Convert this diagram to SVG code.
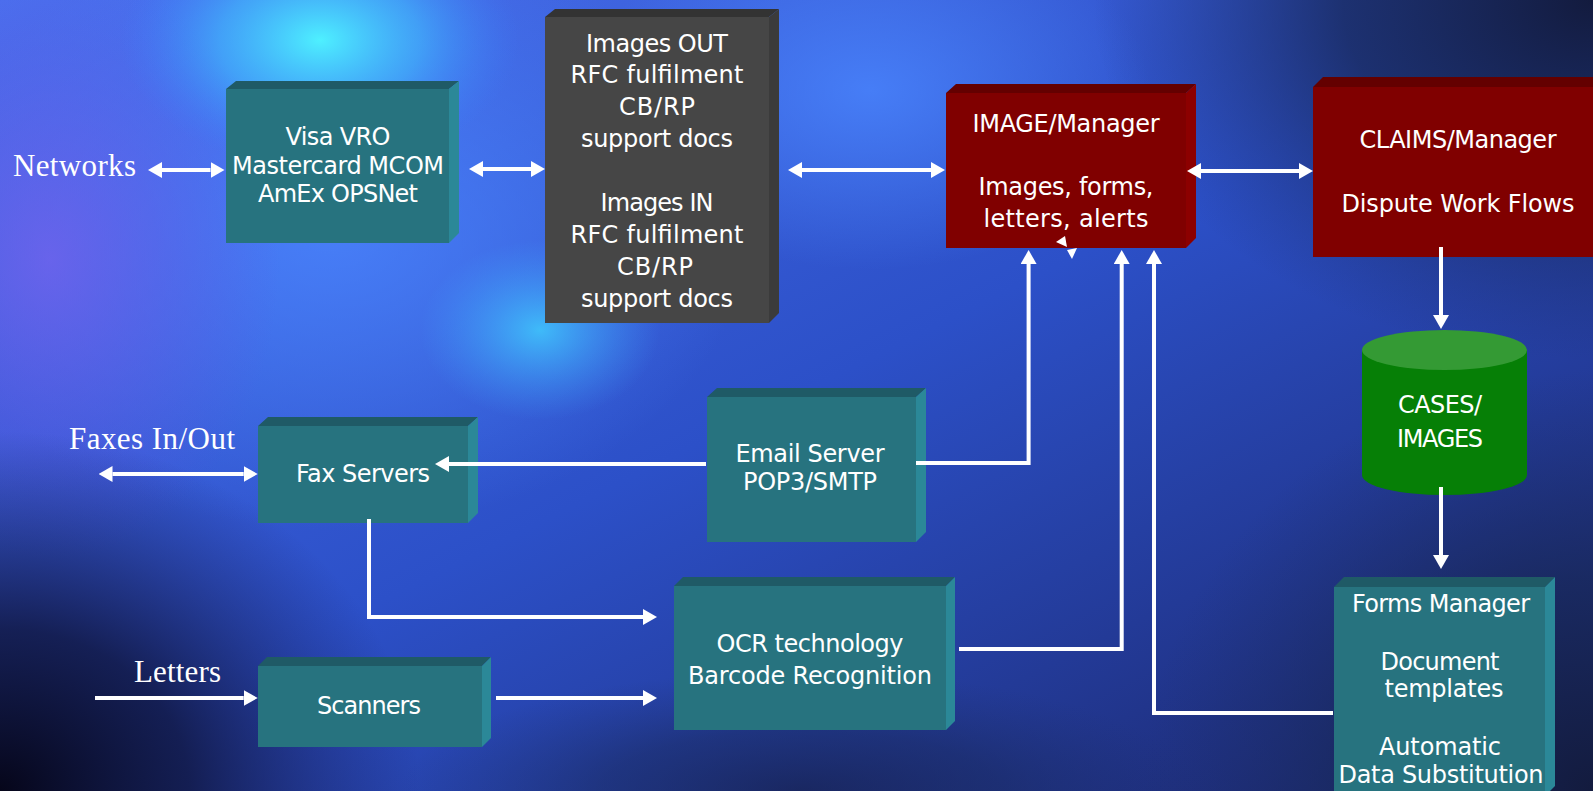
<svg xmlns="http://www.w3.org/2000/svg" width="1593" height="791" viewBox="0 0 1593 791">
<defs>
<style>
.t{font-family:"DejaVu Sans","Noto Sans",sans-serif;font-size:24px;fill:#fff;text-anchor:middle}
.s{font-family:"Liberation Serif","Times New Roman",serif;font-size:31px;fill:#fff}
.ln{fill:none;stroke:#fff;stroke-width:4}
.teal .f{fill:#27737f}.teal .tp{fill:#1f5a66}.teal .r{fill:#2b8898}
.grey .f{fill:#464646}.grey .tp{fill:#333}.grey .r{fill:#3b3b3b}
.red .f{fill:#800000}.red .tp{fill:#640000}.red .r{fill:#8c0000}
</style>
<marker id="ah" viewBox="0 0 14 16" markerWidth="14" markerHeight="16" refX="0" refY="8" orient="auto-start-reverse" markerUnits="userSpaceOnUse"><path d="M0,0 L14,8 L0,16 z" fill="#fff"/></marker>
<linearGradient id="bg0" x1="0" y1="0" x2="1" y2="1"><stop offset="0" stop-color="#4a70ee"/><stop offset="0.5" stop-color="#2c50c8"/><stop offset="1" stop-color="#1a2466"/></linearGradient>
<radialGradient id="cy1"><stop offset="0" stop-color="#4ef0ff"/><stop offset="0.5" stop-color="#40c0ff" stop-opacity="0.6"/><stop offset="1" stop-color="#3a80ff" stop-opacity="0"/></radialGradient>
<radialGradient id="pu"><stop offset="0" stop-color="#7460ec" stop-opacity="0.75"/><stop offset="1" stop-color="#6050e0" stop-opacity="0"/></radialGradient>
<radialGradient id="dk"><stop offset="0" stop-color="#06061a"/><stop offset="0.45" stop-color="#101640" stop-opacity="0.85"/><stop offset="1" stop-color="#1a2060" stop-opacity="0"/></radialGradient>
<radialGradient id="dk2"><stop offset="0" stop-color="#131b3e"/><stop offset="0.5" stop-color="#18285a" stop-opacity="0.8"/><stop offset="1" stop-color="#1e3070" stop-opacity="0"/></radialGradient>
<radialGradient id="lb"><stop offset="0" stop-color="#4a86ff" stop-opacity="0.8"/><stop offset="1" stop-color="#4a86ff" stop-opacity="0"/></radialGradient>
<radialGradient id="cy2"><stop offset="0" stop-color="#40d0ff" stop-opacity="0.8"/><stop offset="1" stop-color="#40a0ff" stop-opacity="0"/></radialGradient>
</defs>

<g id="background">
<rect width="1593" height="791" fill="url(#bg0)"/>
<ellipse cx="330" cy="230" rx="420" ry="300" fill="url(#lb)"/>
<ellipse cx="870" cy="90" rx="280" ry="180" fill="url(#lb)"/>
<ellipse cx="50" cy="260" rx="230" ry="300" fill="url(#pu)"/>
<ellipse cx="320" cy="40" rx="200" ry="130" fill="url(#cy1)"/>
<ellipse cx="540" cy="330" rx="120" ry="90" fill="url(#cy2)"/>
<ellipse cx="0" cy="791" rx="420" ry="360" fill="url(#dk)"/>
<ellipse cx="1593" cy="0" rx="500" ry="360" fill="url(#dk2)"/>
<ellipse cx="1593" cy="791" rx="450" ry="420" fill="url(#dk2)"/>
<ellipse cx="800" cy="791" rx="400" ry="120" fill="url(#dk2)" opacity="0.6"/>
</g>

<g id="labels">
<text class="s" x="13" y="176" textLength="123">Networks</text>
<text class="s" x="69" y="449" textLength="166">Faxes In/Out</text>
<text class="s" x="134" y="682" textLength="87">Letters</text>
</g>

<g id="visa" class="teal">
<polygon class="tp" points="226,89 236,81 459,81 449,89"/>
<polygon class="r" points="449,89 459,81 459,233 449,243"/>
<rect class="f" x="226" y="89" width="223" height="154"/>
<text class="t" x="338" y="145" textLength="105">Visa VRO</text>
<text class="t" x="338" y="174" textLength="212">Mastercard MCOM</text>
<text class="t" x="338" y="202" textLength="160">AmEx OPSNet</text>
</g>

<g id="images-io" class="grey">
<polygon class="tp" points="545,17 555,9 779,9 769,17"/>
<polygon class="r" points="769,17 779,9 779,313 769,323"/>
<rect class="f" x="545" y="17" width="224" height="306"/>
<text class="t" x="657" y="52" textLength="142">Images OUT</text>
<text class="t" x="657" y="83" textLength="173">RFC fulfilment</text>
<text class="t" x="657" y="115" textLength="76">CB/RP</text>
<text class="t" x="657" y="147" textLength="152">support docs</text>
<text class="t" x="657" y="211" textLength="113">Images IN</text>
<text class="t" x="657" y="243" textLength="173">RFC fulfilment</text>
<text class="t" x="655" y="275" textLength="76">CB/RP</text>
<text class="t" x="657" y="307" textLength="152">support docs</text>
</g>

<g id="image-manager" class="red">
<polygon class="tp" points="946,93 956,84 1196,84 1186,93"/>
<polygon class="r" points="1186,93 1196,84 1196,238 1186,248"/>
<rect class="f" x="946" y="93" width="240" height="155"/>
<text class="t" x="1066" y="132" textLength="187">IMAGE/Manager</text>
<text class="t" x="1066" y="195" textLength="175">Images, forms,</text>
<text class="t" x="1066" y="227" textLength="165">letters, alerts</text>
</g>

<g id="claims-manager" class="red">
<polygon class="tp" points="1313,87 1323,77 1603,77 1593,87"/>
<rect class="f" x="1313" y="87" width="290" height="170"/>
<text class="t" x="1458" y="148" textLength="197">CLAIMS/Manager</text>
<text class="t" x="1458" y="212" textLength="233">Dispute Work Flows</text>
</g>

<g id="cases-images">
<path d="M1362,350 V475 A82.5,20 0 0 0 1527,475 V350 Z" fill="#067f06"/>
<ellipse cx="1444.5" cy="350" rx="82.5" ry="20" fill="#349a34"/>
<text class="t" x="1440" y="413" textLength="84">CASES/</text>
<text class="t" x="1440" y="447" textLength="86">IMAGES</text>
</g>

<g id="forms-manager" class="teal">
<polygon class="tp" points="1334,587 1344,577 1555,577 1545,587"/>
<polygon class="r" points="1545,587 1555,577 1555,786 1545,796"/>
<rect class="f" x="1334" y="587" width="211" height="210"/>
<text class="t" x="1441" y="612" textLength="178">Forms Manager</text>
<text class="t" x="1440" y="670" textLength="119">Document</text>
<text class="t" x="1444" y="697" textLength="119">templates</text>
<text class="t" x="1440" y="755" textLength="122">Automatic</text>
<text class="t" x="1441" y="783" textLength="205">Data Substitution</text>
</g>

<g id="fax-servers" class="teal">
<polygon class="tp" points="258,426 268,417 478,417 468,426"/>
<polygon class="r" points="468,426 478,417 478,513 468,523"/>
<rect class="f" x="258" y="426" width="210" height="97"/>
<text class="t" x="363" y="482" textLength="134">Fax Servers</text>
</g>

<g id="email-server" class="teal">
<polygon class="tp" points="707,397 717,388 926,388 916,397"/>
<polygon class="r" points="916,397 926,388 926,532 916,542"/>
<rect class="f" x="707" y="397" width="209" height="145"/>
<text class="t" x="810" y="462" textLength="149">Email Server</text>
<text class="t" x="810" y="490" textLength="134">POP3/SMTP</text>
</g>

<g id="ocr" class="teal">
<polygon class="tp" points="674,586 683,577 955,577 946,586"/>
<polygon class="r" points="946,586 955,577 955,721 946,730"/>
<rect class="f" x="674" y="586" width="272" height="144"/>
<text class="t" x="810" y="652" textLength="187">OCR technology</text>
<text class="t" x="810" y="684" textLength="244">Barcode Recognition</text>
</g>

<g id="scanners" class="teal">
<polygon class="tp" points="258,666 267,657 491,657 482,666"/>
<polygon class="r" points="482,666 491,657 491,738 482,747"/>
<rect class="f" x="258" y="666" width="224" height="81"/>
<text class="t" x="369" y="714" textLength="104">Scanners</text>
</g>

<g id="connectors">
<path class="ln" d="M162,170 H210.5" marker-start="url(#ah)" marker-end="url(#ah)"/>
<path class="ln" d="M483,169 H531" marker-start="url(#ah)" marker-end="url(#ah)"/>
<path class="ln" d="M802,170 H931" marker-start="url(#ah)" marker-end="url(#ah)"/>
<path class="ln" d="M1201,171 H1299" marker-start="url(#ah)" marker-end="url(#ah)"/>
<path class="ln" d="M1441,247 V315" marker-end="url(#ah)"/>
<path class="ln" d="M1441,487 V555" marker-end="url(#ah)"/>
<path class="ln" d="M112.5,474 H243.7" marker-start="url(#ah)" marker-end="url(#ah)"/>
<path class="ln" d="M706,464 H449" marker-end="url(#ah)"/>
<path class="ln" d="M369,519 V617 H643" marker-end="url(#ah)"/>
<path class="ln" d="M95,698 H243.7" marker-end="url(#ah)"/>
<path class="ln" d="M496,698 H643" marker-end="url(#ah)"/>
<path class="ln" d="M916,463 H1028.6 V264" marker-end="url(#ah)"/>
<path class="ln" d="M959,649 H1121.7 V264" marker-end="url(#ah)"/>
<path class="ln" d="M1333,713 H1154 V264" marker-end="url(#ah)"/>
<polygon points="1056,242 1065,236 1067,247" fill="#fff"/>
<polygon points="1067,250 1077,248 1072,259" fill="#fff"/>
</g>
</svg>
